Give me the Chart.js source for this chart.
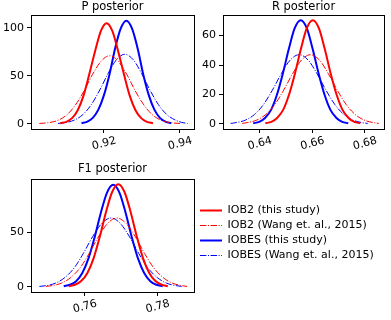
<!DOCTYPE html>
<html>
<head>
<meta charset="utf-8">
<script src="https://cdn.jsdelivr.net/npm/chart.js@4.4.0/dist/chart.umd.min.js"></script>
<style>
  body { margin: 0; background: #fff; width: 391px; height: 320px; position: relative; overflow: hidden; }
  canvas { position: absolute; }
</style>
</head>
<body>
<canvas id="graficoP" width="225" height="160" style="left:0;top:0"></canvas>
<canvas id="graficoR" width="207" height="160" style="left:200px;top:0"></canvas>
<canvas id="graficoF1" width="225" height="165" style="left:0;top:155px"></canvas>
<canvas id="leyenda" width="195" height="160" style="left:196px;top:201px"></canvas>
<script>
// Series (same order in every panel)
const seriesLabels = ['IOB2 (this study)', 'IOB2 (Wang et. al., 2015)', 'IOBES (this study)', 'IOBES (Wang et. al., 2015)'];
const seriesColors = ['#ff0000', '#ff0000', '#0000ff', '#0000ff'];

// P posterior
const pXTicks = [0.92, 0.94];
const pYTicks = [0, 50, 100];
const pIob2X = [0.9085, 0.9101, 0.9116, 0.9131, 0.9146, 0.9161, 0.9177, 0.9192, 0.9207, 0.9222, 0.9237, 0.9253, 0.9268, 0.9283, 0.9298, 0.9313, 0.9329];
const pIob2Y = [0.6, 2.1, 5.9, 14.2, 29.2, 51.1, 76.2, 96.9, 105, 96.9, 76.2, 51.1, 29.2, 14.2, 5.9, 2.1, 0.6];
const pIob2WangX = [0.9030, 0.9058, 0.9081, 0.9103, 0.9125, 0.9148, 0.9170, 0.9193, 0.9215, 0.9237, 0.9260, 0.9282, 0.9305, 0.9327, 0.9349, 0.9372, 0.9400];
const pIob2WangY = [0.4, 1.4, 4.0, 9.6, 19.7, 34.6, 51.6, 65.5, 71, 65.5, 51.6, 34.6, 19.7, 9.6, 4.0, 1.4, 0.4];
const pIobesX = [0.9141, 0.9155, 0.9170, 0.9185, 0.9200, 0.9215, 0.9229, 0.9244, 0.9259, 0.9274, 0.9289, 0.9303, 0.9318, 0.9333, 0.9348, 0.9363, 0.9377];
const pIobesY = [0.6, 2.1, 6.0, 14.5, 29.9, 52.3, 78.1, 99.2, 107.5, 99.2, 78.1, 52.3, 29.9, 14.5, 6.0, 2.1, 0.6];
const pIobesWangX = [0.9079, 0.9101, 0.9123, 0.9145, 0.9167, 0.9189, 0.9211, 0.9233, 0.9255, 0.9277, 0.9299, 0.9321, 0.9343, 0.9365, 0.9387, 0.9405, 0.9420];
const pIobesWangY = [0.4, 1.4, 4.1, 9.8, 20.2, 35.3, 52.6, 66.9, 72.5, 66.9, 52.6, 35.3, 20.2, 9.8, 4.1, 1.4, 0.4];

// R posterior
const rXTicks = [0.64, 0.66, 0.68];
const rYTicks = [0, 20, 40, 60];
const rIob2X = [0.6421, 0.6444, 0.6466, 0.6489, 0.6511, 0.6534, 0.6557, 0.6579, 0.6602, 0.6625, 0.6647, 0.6670, 0.6693, 0.6715, 0.6738, 0.6760, 0.6783];
const rIob2Y = [0.4, 1.4, 4.0, 9.5, 19.6, 34.3, 51.2, 65.1, 70.5, 65.1, 51.2, 34.3, 19.6, 9.5, 4.0, 1.4, 0.4];
const rIob2WangX = [0.6333, 0.6355, 0.6389, 0.6423, 0.6457, 0.6491, 0.6525, 0.6559, 0.6593, 0.6627, 0.6661, 0.6695, 0.6729, 0.6763, 0.6797, 0.6831, 0.6853];
const rIob2WangY = [0.3, 0.9, 2.6, 6.4, 13.1, 22.9, 34.1, 43.4, 47, 43.4, 34.1, 22.9, 13.1, 6.4, 2.6, 0.9, 0.3];
const rIobesX = [0.6375, 0.6398, 0.6420, 0.6443, 0.6465, 0.6488, 0.6511, 0.6533, 0.6556, 0.6579, 0.6601, 0.6624, 0.6647, 0.6669, 0.6692, 0.6714, 0.6737];
const rIobesY = [0.4, 1.4, 4.0, 9.5, 19.6, 34.3, 51.2, 65.1, 70.5, 65.1, 51.2, 34.3, 19.6, 9.5, 4.0, 1.4, 0.4];
const rIobesWangX = [0.6289, 0.6312, 0.6346, 0.6380, 0.6414, 0.6448, 0.6482, 0.6516, 0.6550, 0.6584, 0.6618, 0.6652, 0.6686, 0.6720, 0.6754, 0.6788, 0.6811];
const rIobesWangY = [0.3, 0.9, 2.6, 6.4, 13.1, 22.9, 34.1, 43.4, 47, 43.4, 34.1, 22.9, 13.1, 6.4, 2.6, 0.9, 0.3];

// F1 posterior
const f1XTicks = [0.76, 0.78];
const f1YTicks = [0, 50];
const f1Iob2X = [0.7556, 0.7573, 0.7590, 0.7607, 0.7624, 0.7641, 0.7658, 0.7675, 0.7692, 0.7709, 0.7726, 0.7743, 0.7760, 0.7777, 0.7794, 0.7811, 0.7828];
const f1Iob2Y = [0.6, 1.9, 5.3, 12.7, 26.1, 45.8, 68.3, 86.8, 94, 86.8, 68.3, 45.8, 26.1, 12.7, 5.3, 1.9, 0.6];
const f1Iob2WangX = [0.7493, 0.7511, 0.7536, 0.7561, 0.7587, 0.7612, 0.7637, 0.7663, 0.7688, 0.7713, 0.7739, 0.7764, 0.7789, 0.7815, 0.7840, 0.7865, 0.7881];
const f1Iob2WangY = [0.4, 1.2, 3.5, 8.5, 17.5, 30.7, 45.7, 58.2, 63, 58.2, 45.7, 30.7, 17.5, 8.5, 3.5, 1.2, 0.4];
const f1IobesX = [0.7542, 0.7559, 0.7576, 0.7593, 0.7610, 0.7627, 0.7644, 0.7661, 0.7678, 0.7695, 0.7712, 0.7729, 0.7746, 0.7763, 0.7780, 0.7797, 0.7814];
const f1IobesY = [0.6, 1.9, 5.2, 12.7, 26.0, 45.5, 67.9, 86.3, 93.5, 86.3, 67.9, 45.5, 26.0, 12.7, 5.2, 1.9, 0.6];
const f1IobesWangX = [0.7475, 0.7495, 0.7520, 0.7545, 0.7571, 0.7596, 0.7621, 0.7647, 0.7672, 0.7697, 0.7723, 0.7748, 0.7773, 0.7799, 0.7824, 0.7849, 0.7866];
const f1IobesWangY = [0.4, 1.2, 3.5, 8.5, 17.5, 30.7, 45.7, 58.2, 63, 58.2, 45.7, 30.7, 17.5, 8.5, 3.5, 1.2, 0.4];

Chart.defaults.font.family = "'DejaVu Sans', sans-serif";
Chart.defaults.font.size = 11;
Chart.defaults.color = '#000';

const seriesWidths = [2, 1, 2, 1];
const seriesDash = [[], [6.4, 1.6, 1, 1.6], [], [6.4, 1.6, 1, 1.6]];

// marco completo alrededor del area de dibujo
const marco = {
    id: 'marco',
    afterDatasetsDraw(chart) {
        const { ctx, chartArea: a } = chart;
        ctx.save();
        ctx.strokeStyle = '#000';
        ctx.lineWidth = 1;
        ctx.strokeRect(Math.round(a.left) + 0.5, Math.round(a.top) + 0.5,
            Math.round(a.right - a.left), Math.round(a.bottom - a.top));
        ctx.restore();
    }
};

function armarSerie(xs, ys, i) {
    return {
        label: seriesLabels[i],
        data: xs.map((x, j) => ({ x: x, y: ys[j] })),
        showLine: true,
        borderColor: seriesColors[i],
        borderWidth: seriesWidths[i],
        borderDash: seriesDash[i],
        pointRadius: 0,
        cubicInterpolationMode: 'monotone',
        fill: false
    };
}

// un eje "y2" vacio a la derecha, del mismo ancho que el eje y,
// deja el titulo centrado sobre el area de dibujo
function crearGrafico(id, titulo, series, area, xLim, yLim, xTicks, yTicks, tituloPad) {
    const canvas = document.getElementById(id);
    return new Chart(canvas, {
        type: 'scatter',
        data: { datasets: series },
        options: {
            responsive: false,
            animation: false,
            layout: { padding: { left: 0, top: 0, right: canvas.width - area.right - area.left, bottom: 0 } },
            plugins: {
                legend: { display: false },
                tooltip: { enabled: false },
                title: {
                    display: true, text: titulo, color: '#000',
                    font: { size: 11.5, weight: 'normal' },
                    padding: tituloPad
                }
            },
            scales: {
                x: {
                    type: 'linear', min: xLim[0], max: xLim[1],
                    afterBuildTicks: s => { s.ticks = xTicks.map(v => ({ value: v })); },
                    afterFit: s => { s.height = canvas.height - area.bottom; s.paddingLeft = 0; s.paddingRight = 0; },
                    ticks: { minRotation: 15, maxRotation: 15, labelOffset: 12, padding: 1, color: '#000',
                             callback: v => v.toFixed(2) },
                    grid: { drawOnChartArea: false, drawTicks: true, tickLength: 4, color: '#000' },
                    border: { display: false }
                },
                y: {
                    min: yLim[0], max: yLim[1],
                    afterBuildTicks: s => { s.ticks = yTicks.map(v => ({ value: v })); },
                    afterFit: s => { s.width = area.left; s.paddingTop = 0; s.paddingBottom = 0; },
                    ticks: { padding: 3, color: '#000', callback: v => String(v) },
                    grid: { drawOnChartArea: false, drawTicks: true, tickLength: 4, color: '#000' },
                    border: { display: false }
                },
                y2: {
                    position: 'right', min: 0, max: 1,
                    afterFit: s => { s.width = area.left; s.paddingTop = 0; s.paddingBottom = 0; },
                    ticks: { display: false },
                    grid: { display: false },
                    border: { display: false }
                }
            }
        },
        plugins: [marco]
    });
}

crearGrafico('graficoP', 'P posterior', [
    armarSerie(pIob2X, pIob2Y, 0),
    armarSerie(pIob2WangX, pIob2WangY, 1),
    armarSerie(pIobesX, pIobesY, 2),
    armarSerie(pIobesWangX, pIobesWangY, 3)
], { left: 31, right: 194, bottom: 129 }, [0.9008, 0.9437], [-5.4, 113.5], pXTicks, pYTicks, { top: 0, bottom: 1.2 });

crearGrafico('graficoR', 'R posterior', [
    armarSerie(rIob2X, rIob2Y, 0),
    armarSerie(rIob2WangX, rIob2WangY, 1),
    armarSerie(rIobesX, rIobesY, 2),
    armarSerie(rIobesWangX, rIobesWangY, 3)
], { left: 23, right: 184, bottom: 129 }, [0.6260, 0.6873], [-3.5, 74], rXTicks, rYTicks, { top: 0, bottom: 1.2 });

crearGrafico('graficoF1', 'F1 posterior', [
    armarSerie(f1Iob2X, f1Iob2Y, 0),
    armarSerie(f1Iob2WangX, f1Iob2WangY, 1),
    armarSerie(f1IobesX, f1IobesY, 2),
    armarSerie(f1IobesWangX, f1IobesWangY, 3)
], { left: 31, right: 194, bottom: 137 }, [0.7452, 0.7900], [-4.7, 98.7], f1XTicks, f1YTicks, { top: 7.1, bottom: 3.1 });

// leyenda aparte, a la derecha del panel F1
new Chart(document.getElementById('leyenda'), {
    type: 'scatter',
    data: { datasets: seriesLabels.map((lab, i) => armarSerie([], [], i)) },
    options: {
        responsive: false,
        animation: false,
        layout: { padding: 0 },
        scales: { x: { display: false }, y: { display: false } },
        plugins: {
            tooltip: { enabled: false },
            legend: {
                display: true, position: 'top', align: 'start',
                labels: {
                    usePointStyle: true, pointStyleWidth: 22, boxHeight: 11,
                    padding: 4, color: '#000', font: { size: 11 },
                    generateLabels: chart => chart.data.datasets.map((ds, i) => ({
                        text: ds.label,
                        datasetIndex: i,
                        hidden: false,
                        pointStyle: 'line',
                        fillStyle: ds.borderColor,
                        strokeStyle: ds.borderColor,
                        lineWidth: ds.borderWidth,
                        lineDash: ds.borderDash,
                        fontColor: '#000'
                    }))
                }
            }
        }
    }
});
</script>
</body>
</html>
